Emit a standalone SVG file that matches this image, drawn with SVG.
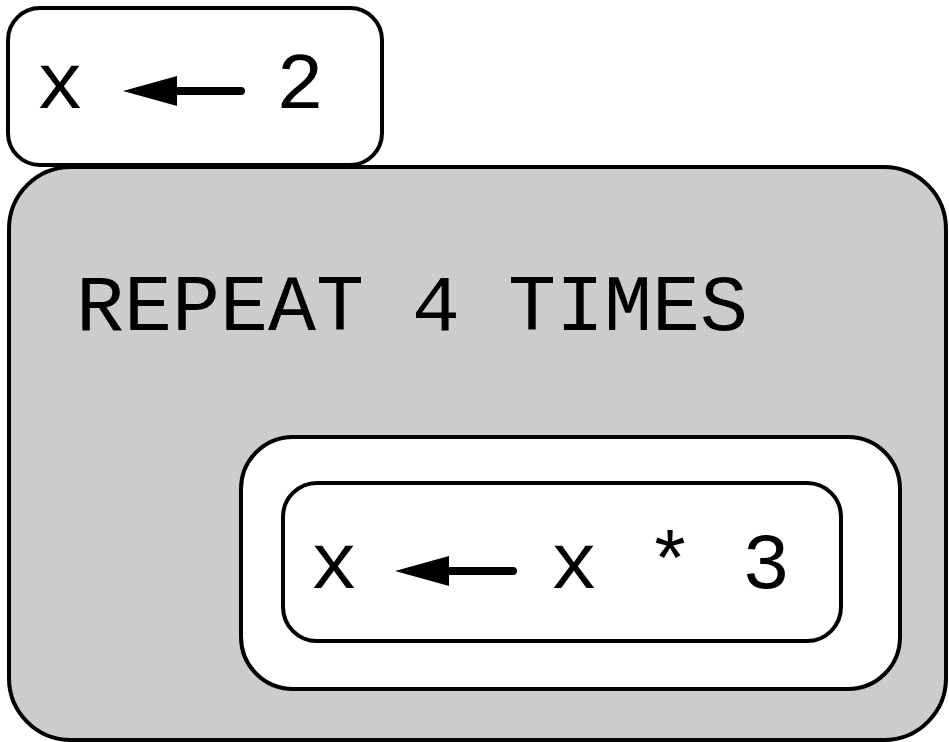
<svg xmlns="http://www.w3.org/2000/svg" width="949" height="742" viewBox="0 0 949 742">
<style>
.box{stroke:#000;stroke-width:4;}
.t{font-family:"Courier New","Liberation Mono",monospace;font-size:80px;fill:#000;}
</style>
<defs>
<path id="arr" d="M0,0 L54,-15 L54,-4 L118,-4 Q122,-4 122,0 Q122,4 118,4 L54,4 L54,15 Z"/>
</defs>
<rect width="949" height="742" fill="#fff"/>
<g id="repeat">
<rect class="box" x="9" y="167" width="937" height="573" rx="62" ry="62" fill="#cbccce"/>
<text class="t" x="76" y="330">REPEAT 4 TIMES</text>
</g>
<g id="init">
<rect class="box" x="8" y="8" width="374" height="157" rx="32" ry="32" fill="#fff"/>
<text class="t" x="36" y="108">x</text>
<use href="#arr" x="123" y="91"/>
<text class="t" x="276" y="108">2</text>
</g>
<g id="body">
<rect class="box" x="241" y="437" width="659" height="252" rx="52" ry="52" fill="#fff"/>
</g>
<g id="assign">
<rect class="box" x="283" y="483" width="558" height="158" rx="34" ry="34" fill="#fff"/>
<text class="t" x="310" y="588">x</text>
<use href="#arr" x="395" y="571"/>
<text class="t" x="550" y="588">x * 3</text>
</g>
<g id="connectors"></g>
</svg>
